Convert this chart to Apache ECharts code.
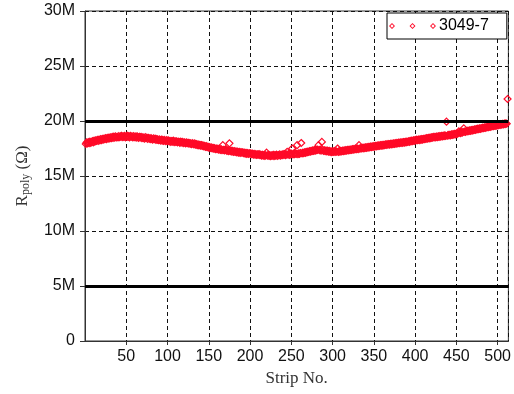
<!DOCTYPE html>
<html>
<head>
<meta charset="utf-8">
<script src="https://cdn.jsdelivr.net/npm/echarts@6/dist/echarts.min.js"></script>
<style>html,body{margin:0;padding:0;background:#fff}#c{width:514px;height:394px}</style>
</head>
<body>
<div id="c"></div>
<script>
// R_poly per strip (in MΩ), strips 1..512
const rpoly = [
17.92,18.05,17.96,18.08,17.99,18.12,18.02,18.09,18.17,18.06,
18.21,18.13,18.24,18.18,18.29,18.20,18.31,18.24,18.35,18.27,
18.38,18.30,18.41,18.34,18.44,18.36,18.47,18.39,18.50,18.42,
18.51,18.44,18.55,18.47,18.58,18.49,18.60,18.52,18.57,18.50,
18.62,18.53,18.59,18.66,18.54,18.61,18.56,18.64,18.52,18.60,
18.67,18.55,18.62,18.51,18.64,18.57,18.60,18.50,18.63,18.54,
18.59,18.49,18.61,18.53,18.46,18.57,18.50,18.55,18.44,18.52,
18.47,18.40,18.53,18.43,18.48,18.38,18.46,18.41,18.36,18.45,
18.38,18.31,18.42,18.34,18.39,18.28,18.36,18.30,18.25,18.33,
18.27,18.21,18.32,18.24,18.19,18.28,18.22,18.16,18.26,18.18,
18.23,18.14,18.20,18.10,18.18,18.13,18.21,18.08,18.16,18.11,
18.15,18.06,18.13,18.09,18.02,18.12,18.05,18.10,17.99,18.07,
18.03,17.97,18.06,17.99,18.02,17.93,18.00,17.95,17.90,17.98,
17.93,17.87,17.96,17.85,17.90,17.81,17.88,17.79,17.84,17.76,
17.82,17.73,17.78,17.69,17.74,17.65,17.71,17.62,17.67,17.58,
17.63,17.55,17.60,17.51,17.57,17.48,17.54,17.45,17.50,17.43,
17.48,17.40,17.46,17.37,17.43,17.35,17.80,17.38,17.32,17.41,
17.34,17.29,17.36,17.27,17.97,17.25,17.31,17.22,17.28,17.20,
17.26,17.18,17.23,17.14,17.21,17.12,17.19,17.10,17.17,17.13,
17.16,17.08,17.13,17.04,17.11,17.02,17.09,17.00,17.07,17.03,
17.06,16.98,17.04,16.95,17.01,16.93,16.99,16.91,16.97,16.94,
16.98,16.90,16.95,16.86,16.93,16.84,16.91,16.82,16.89,17.12,
16.85,16.92,16.83,16.90,16.80,16.88,16.84,16.93,16.81,16.89,
16.86,16.94,16.83,16.91,16.88,16.96,16.85,16.93,16.90,16.98,
16.92,17.00,16.89,16.97,17.20,16.94,17.02,16.91,16.99,17.03,
17.50,16.96,17.04,16.98,17.07,17.01,17.80,16.99,17.06,17.02,
17.09,18.00,17.05,17.12,17.08,17.16,17.11,17.19,17.14,17.22,
17.18,17.26,17.21,17.29,17.25,17.33,17.28,17.36,17.31,17.38,
17.34,17.40,17.80,17.35,17.39,17.31,18.10,17.37,17.29,17.34,
17.27,17.32,17.24,17.30,17.21,17.28,17.19,17.25,17.17,17.23,
17.20,17.26,17.18,17.24,17.21,17.50,17.19,17.27,17.22,17.28,
17.24,17.30,17.26,17.33,17.28,17.35,17.31,17.37,17.33,17.39,
17.34,17.41,17.37,17.44,17.39,17.46,17.41,17.48,17.43,17.50,
17.45,17.80,17.48,17.54,17.50,17.57,17.52,17.59,17.54,17.61,
17.56,17.63,17.58,17.66,17.61,17.68,17.63,17.70,17.65,17.72,
17.67,17.74,17.70,17.77,17.72,17.79,17.74,17.81,17.76,17.83,
17.77,17.84,17.80,17.87,17.82,17.89,17.84,17.91,17.86,17.93,
17.88,17.95,17.90,17.97,17.92,17.99,17.94,18.01,17.96,18.03,
17.98,18.05,18.00,18.07,18.02,18.09,18.04,18.11,18.06,18.13,
18.09,18.16,18.11,18.19,18.14,18.22,18.17,18.25,18.20,18.27,
18.23,18.30,18.25,18.32,18.27,18.34,18.29,18.36,18.31,18.38,
18.34,18.41,18.37,18.44,18.40,18.47,18.42,18.50,18.45,18.52,
18.48,18.55,18.50,18.57,18.52,18.59,18.54,18.61,18.56,18.63,
18.58,18.65,18.60,18.67,18.62,18.69,18.64,19.94,18.66,18.73,
18.68,18.75,18.70,18.78,18.73,18.81,18.76,18.84,18.79,18.86,
18.83,18.90,19.05,18.95,18.90,18.98,18.93,19.01,19.33,19.04,
19.02,19.09,19.05,19.12,19.08,19.15,19.11,19.18,19.13,19.20,
19.17,19.24,19.20,19.27,19.23,19.30,19.26,19.33,19.28,19.35,
19.32,19.39,19.35,19.42,19.38,19.45,19.41,19.48,19.43,19.50,
19.47,19.54,19.50,19.57,19.53,19.60,19.56,19.63,19.58,19.65,
19.62,19.68,19.64,19.71,19.67,19.74,19.70,19.77,19.72,19.79,
19.75,22.00
];
const seriesName = '3049-7';
const thresholds = [5, 20];
const yTickValues = [0, 5, 10, 15, 20, 25, 30];
const yTickLabels = ['0', '5M', '10M', '15M', '20M', '25M', '30M'];
const xTickValues = [50, 100, 150, 200, 250, 300, 350, 400, 450, 500];

const RED = '#ff0a28';
const sans = 'Liberation Sans';
const serif = 'Liberation Serif';
const chart = echarts.init(document.getElementById('c'), null, {renderer: 'canvas'});
const points = rpoly.map((v, i) => [i + 1, v]);
const legendIcon = 'path://M0 3L3 0L6 3L3 6Z M1.3 3L3 4.7L4.7 3L3 1.3Z ' +
  'M20.5 3L23.5 0L26.5 3L23.5 6Z M21.8 3L23.5 4.7L25.2 3L23.5 1.3Z ' +
  'M41 3L44 0L47 3L44 6Z M42.3 3L44 4.7L45.7 3L44 1.3Z';

chart.setOption({
  animation: false,
  backgroundColor: '#fff',
  grid: {left: 85, right: 5, top: 11, bottom: 53, show: true, borderColor: '#333', borderWidth: 1, backgroundColor: 'transparent'},
  legend: {
    left: 387, top: 13,
    padding: [5, 18, 5, 2],
    backgroundColor: '#fff', borderColor: '#000', borderWidth: 1, borderRadius: 0,
    itemWidth: 47, itemHeight: 6, itemGap: 5,
    icon: legendIcon,
    itemStyle: {color: RED, borderWidth: 0},
    textStyle: {fontFamily: sans, fontSize: 16, color: '#000', padding: [0, 0, 0, -2]},
    data: [seriesName]
  },
  xAxis: {
    type: 'value', min: 0, max: 513, interval: 50,
    name: 'Strip No.', nameLocation: 'middle', nameGap: 29,
    nameTextStyle: {fontFamily: serif, fontSize: 17, color: '#333'},
    axisLine: {show: true, lineStyle: {color: '#333', width: 1}},
    axisTick: {show: true, inside: false, length: 4, lineStyle: {color: '#333'}},
    axisLabel: {
      fontFamily: sans, fontSize: 16, color: '#111', margin: 8,
      showMinLabel: false, showMaxLabel: false,
      formatter: v => xTickValues.includes(v) ? String(v) : ''
    },
    splitLine: {show: true, lineStyle: {color: '#111', width: 1, type: [4, 3]}}
  },
  yAxis: {
    type: 'value', min: 0, max: 30, interval: 5,
    name: '{a|R}{b|poly}{a| (Ω)}', nameLocation: 'middle', nameGap: 53, nameRotate: 90,
    nameTextStyle: {
      color: '#333',
      rich: {
        a: {fontFamily: serif, fontSize: 17, color: '#333'},
        b: {fontFamily: serif, fontSize: 12, color: '#333', verticalAlign: 'bottom', padding: [6, 0, 0, 0]}
      }
    },
    axisLine: {show: true, lineStyle: {color: '#333', width: 1}},
    axisTick: {show: true, inside: false, length: 5, lineStyle: {color: '#333'}},
    axisLabel: {
      fontFamily: sans, fontSize: 16, color: '#111', margin: 10,
      formatter: v => { const k = yTickValues.indexOf(v); return k >= 0 ? yTickLabels[k] : ''; }
    },
    splitLine: {show: true, lineStyle: {color: '#111', width: 1, type: [4, 3]}}
  },
  series: [{
    name: seriesName,
    type: 'scatter',
    data: points,
    symbol: 'diamond',
    symbolSize: [7, 7],
    itemStyle: {color: 'rgba(0,0,0,0)', borderColor: RED, borderWidth: 1.2, opacity: 1},
    emphasis: {disabled: true},
    markLine: {
      silent: true, symbol: 'none',
      label: {show: false},
      lineStyle: {color: '#000', width: 3, type: 'solid'},
      data: thresholds.map(t => ({yAxis: t}))
    },
    z: 3
  }]
});
</script>
</body>
</html>
